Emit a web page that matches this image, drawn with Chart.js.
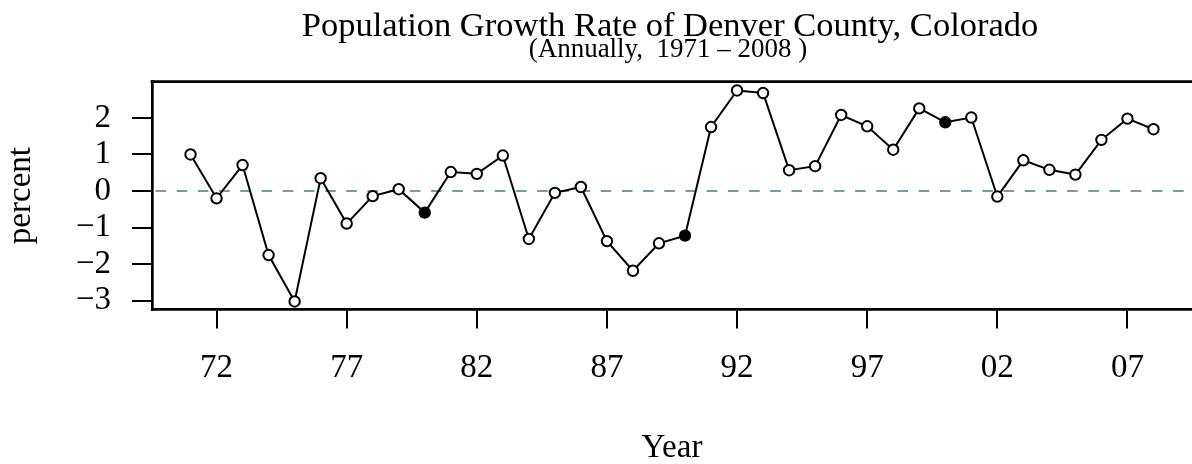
<!DOCTYPE html>
<html>
<head>
<meta charset="utf-8">
<script src="https://cdn.jsdelivr.net/npm/chart.js@4/dist/chart.umd.min.js"></script>
<style>
  html, body { margin: 0; padding: 0; background: #fff; overflow: hidden; }
</style>
</head>
<body>
<canvas id="growth" width="1192" height="464"></canvas>
<script>
// Denver County population growth rate, percent per year
const years = [
  1971, 1972, 1973, 1974, 1975, 1976, 1977, 1978, 1979, 1980,
  1981, 1982, 1983, 1984, 1985, 1986, 1987, 1988, 1989, 1990,
  1991, 1992, 1993, 1994, 1995, 1996, 1997, 1998, 1999, 2000,
  2001, 2002, 2003, 2004, 2005, 2006, 2007, 2008,
];
const growthPct = [
  1.00, -0.20, 0.71, -1.75, -3.02, 0.35, -0.89, -0.14, 0.05, -0.59,
  0.52, 0.47, 0.97, -1.31, -0.05, 0.11, -1.37, -2.18, -1.43, -1.22,
  1.75, 2.75, 2.68, 0.57, 0.68, 2.08, 1.77, 1.13, 2.26, 1.88,
  2.01, -0.15, 0.84, 0.58, 0.45, 1.40, 1.98, 1.69,
];
// census years get a solid marker
const markedYears = [1980, 1990, 2000];

const xTicks = [1972, 1977, 1982, 1987, 1992, 1997, 2002, 2007];
const xTickLabels = ['72', '77', '82', '87', '92', '97', '02', '07'];
const yTicks = [-3, -2, -1, 0, 1, 2];

const SERIF = "'Liberation Serif', 'DejaVu Serif', serif";
const INK = '#000';
const REF_LINE = '#6f9fa4';

const fmtY = v => (v < 0 ? '\u2212' + Math.abs(v) : String(v));

// box, zero line and the text around the plot
const frame = {
  id: 'frame',
  beforeDatasetsDraw(chart) {
    const { ctx, chartArea: a, scales: { y } } = chart;
    const y0 = y.getPixelForValue(0);
    ctx.save();
    ctx.strokeStyle = REF_LINE;
    ctx.lineWidth = 2;
    ctx.setLineDash([10.6, 10.6]);
    ctx.lineDashOffset = -3.5;
    ctx.beginPath();
    ctx.moveTo(a.left, y0);
    ctx.lineTo(a.right, y0);
    ctx.stroke();
    ctx.restore();
  },
  afterDraw(chart) {
    const { ctx, chartArea: a } = chart;
    const cx = (a.left + a.right) / 2;
    ctx.save();
    ctx.strokeStyle = INK;
    ctx.lineWidth = 2.7;
    ctx.beginPath();
    ctx.moveTo(a.left - 1.35, a.top);
    ctx.lineTo(a.right, a.top);
    ctx.stroke();

    ctx.fillStyle = INK;
    ctx.textAlign = 'center';
    ctx.textBaseline = 'alphabetic';
    ctx.font = '34.5px ' + SERIF;
    ctx.fillText('Population Growth Rate of Denver County, Colorado', cx - 2, 36);
    ctx.font = '27px ' + SERIF;
    ctx.fillText('(Annually,  1971 \u2013 2008 )', cx - 4, 57);

    ctx.font = '33px ' + SERIF;
    ctx.fillText('Year', cx, 456.7);

    ctx.translate(29.5, (a.top + a.bottom) / 2);
    ctx.rotate(-Math.PI / 2);
    ctx.fillText('percent', 0, 0);
    ctx.restore();
  },
};

new Chart(document.getElementById('growth'), {
  type: 'line',
  data: {
    datasets: [{
      data: years.map((yr, i) => ({ x: yr, y: growthPct[i] })),
      borderColor: INK,
      borderWidth: 2,
      tension: 0,
      pointRadius: 5.2,
      pointBorderWidth: 2,
      pointBorderColor: INK,
      pointBackgroundColor: years.map(yr => (markedYears.includes(yr) ? INK : '#fff')),
      clip: false,
    }],
  },
  options: {
    responsive: false,
    devicePixelRatio: 1,
    animation: false,
    layout: { autoPadding: false, padding: { top: 81.7, left: 0, right: 0, bottom: 0 } },
    plugins: { legend: { display: false }, tooltip: { enabled: false }, title: { display: false } },
    scales: {
      x: {
        type: 'linear',
        min: 1969.52,
        max: 2009.48,
        afterBuildTicks: s => { s.ticks = xTicks.map(v => ({ value: v })); },
        afterFit: s => { s.height = 464 - 309.5; s.paddingLeft = 0; s.paddingRight = 0; },
        ticks: {
          autoSkip: false,
          maxRotation: 0,
          padding: 20,
          color: INK,
          font: { family: SERIF, size: 33 },
          callback: v => xTickLabels[xTicks.indexOf(v)],
        },
        grid: { drawOnChartArea: false, drawTicks: true, tickLength: 19, color: INK, lineWidth: 2 },
        border: { display: true, color: INK, width: 2.7 },
      },
      y: {
        min: -3.24,
        max: 2.99,
        afterBuildTicks: s => { s.ticks = yTicks.map(v => ({ value: v })); },
        afterFit: s => { s.width = 152; s.paddingTop = 0; s.paddingBottom = 0; },
        ticks: {
          padding: 21,
          color: INK,
          font: { family: SERIF, size: 33 },
          callback: v => fmtY(v),
        },
        grid: { drawOnChartArea: false, drawTicks: true, tickLength: 20, color: INK, lineWidth: 2 },
        border: { display: true, color: INK, width: 2.7 },
      },
    },
  },
  plugins: [frame],
});
</script>
</body>
</html>
